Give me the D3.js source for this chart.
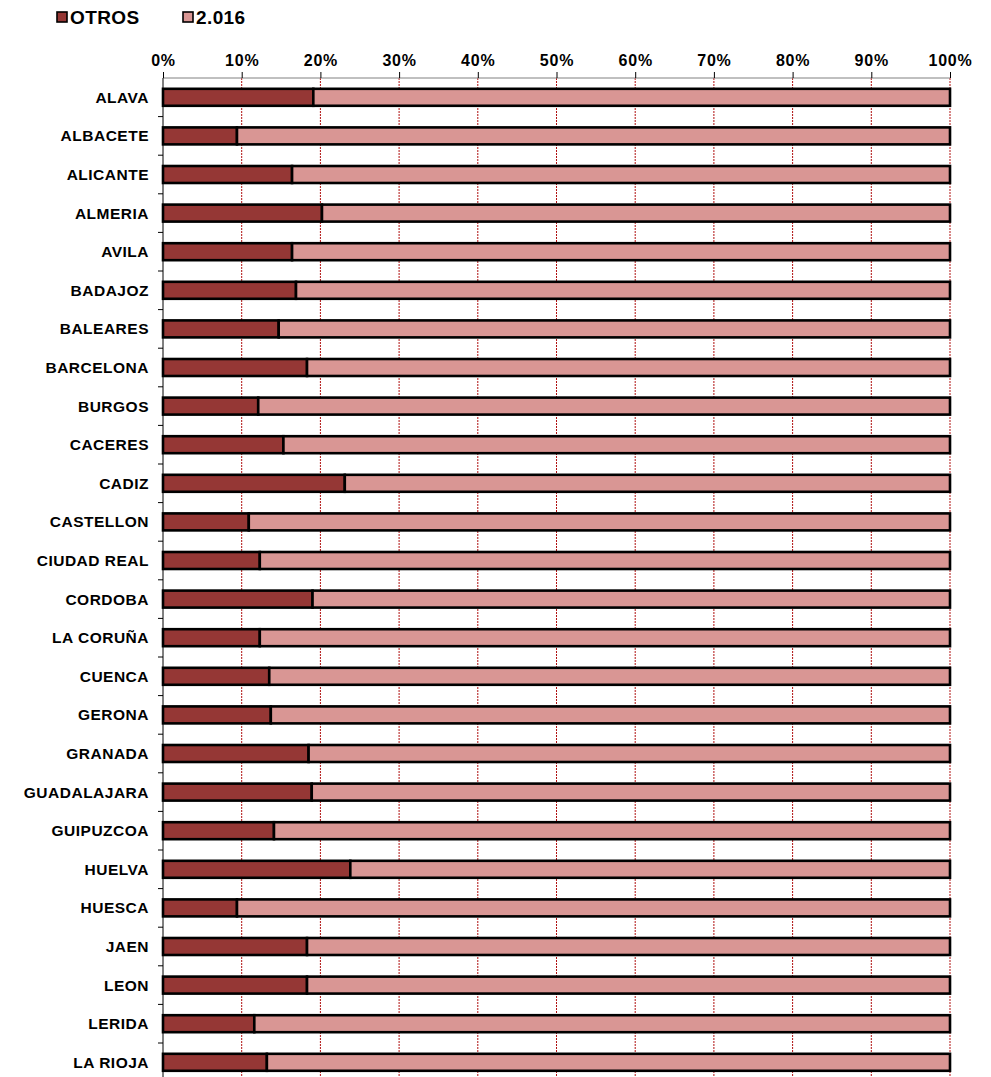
<!DOCTYPE html>
<html>
<head>
<meta charset="utf-8">
<script src="https://cdn.jsdelivr.net/npm/d3@7"></script>
<style>
  body { margin: 0; background: #fff; }
  text { font-family: Arial, "Liberation Sans", sans-serif; font-weight: bold; fill: #000; }
</style>
</head>
<body>
<div id="chart"></div>
<script>
// provinces, top to bottom
const provincias = ["ALAVA", "ALBACETE", "ALICANTE", "ALMERIA", "AVILA", "BADAJOZ", "BALEARES",
  "BARCELONA", "BURGOS", "CACERES", "CADIZ", "CASTELLON", "CIUDAD REAL", "CORDOBA", "LA CORUÑA",
  "CUENCA", "GERONA", "GRANADA", "GUADALAJARA", "GUIPUZCOA", "HUELVA", "HUESCA", "JAEN", "LEON",
  "LERIDA", "LA RIOJA"];

// share (%) of each series
const otros = [19.1, 9.4, 16.4, 20.2, 16.4, 16.9, 14.7, 18.3, 12.1, 15.3, 23.1, 10.9, 12.3, 19.0,
  12.3, 13.5, 13.7, 18.5, 18.9, 14.1, 23.8, 9.4, 18.3, 18.3, 11.6, 13.2];
const y2016 = [80.9, 90.6, 83.6, 79.8, 83.6, 83.1, 85.3, 81.7, 87.9, 84.7, 76.9, 89.1, 87.7, 81.0,
  87.7, 86.5, 86.3, 81.5, 81.1, 85.9, 76.2, 90.6, 81.7, 81.7, 88.4, 86.8];

const series = ["OTROS", "2.016"];
const colors = ["#953735", "#d99694"];
const ticks = [0, 0.1, 0.2, 0.3, 0.4, 0.5, 0.6, 0.7, 0.8, 0.9, 1];

const width = 991, height = 1077,
      margin = ({ top: 78, right: 41, left: 163 });

const data = provincias.map((p, i) => ({ prov: p, "OTROS": otros[i], "2.016": y2016[i] }));
const stacked = d3.stack().keys(series).offset(d3.stackOffsetExpand)(data);

let svg = d3.select("#chart")
  .append("svg")
  .attr("width", width)
  .attr("height", height);

let x = d3.scaleLinear()
  .domain([0, 1])
  .range([margin.left, width - margin.right]);

// band height per category ~38.6px; chart runs past the bottom edge
let y = d3.scaleBand()
  .domain(provincias)
  .range([margin.top, margin.top + provincias.length * 38.6])
  .paddingInner(0.56)
  .paddingOuter(0.28);

// dotted red gridlines
svg.append("g")
  .selectAll("line")
  .data(ticks.slice(1))
  .join("line")
  .attr("x1", d => x(d)).attr("x2", d => x(d))
  .attr("y1", margin.top).attr("y2", height)
  .attr("stroke", "#b01010")
  .attr("stroke-width", 1)
  .attr("stroke-dasharray", "2,1");

// top axis
let xAxis = svg.append("g")
  .attr("transform", `translate(0,${margin.top})`)
  .call(d3.axisTop(x).tickValues(ticks).tickFormat(d3.format(".0%")).tickSize(6).tickPadding(6));
xAxis.select(".domain").attr("stroke", "#808080").attr("d", `M${x(0)},0H${x(1)}`);
xAxis.selectAll(".tick line").attr("stroke", "#000");
xAxis.selectAll(".tick text")
  .attr("font-family", null)
  .style("font-size", "16px")
  .style("letter-spacing", "0.8px");

// left axis with ticks at band boundaries
let step = y.step();
svg.append("line")
  .attr("x1", x(0)).attr("x2", x(0))
  .attr("y1", margin.top).attr("y2", height)
  .attr("stroke", "#000");
svg.append("g")
  .selectAll("line")
  .data(provincias)
  .join("line")
  .attr("x1", x(0) - 5).attr("x2", x(0))
  .attr("y1", d => y(d) - y.paddingOuter() * step + step)
  .attr("y2", d => y(d) - y.paddingOuter() * step + step)
  .attr("stroke", "#000");

// category labels
svg.append("g")
  .selectAll("text")
  .data(provincias)
  .join("text")
  .attr("x", 149)
  .attr("y", d => y(d) + y.bandwidth() / 2)
  .attr("dy", "0.36em")
  .attr("text-anchor", "end")
  .style("font-size", "15.5px")
  .style("letter-spacing", "0.5px")
  .text(d => d);

// stacked bars
svg.append("g")
  .selectAll("g")
  .data(stacked)
  .join("g")
  .attr("fill", (d, i) => colors[i])
  .selectAll("rect")
  .data(d => d)
  .join("rect")
  .attr("x", d => x(d[0]))
  .attr("y", d => y(d.data.prov))
  .attr("width", d => x(d[1]) - x(d[0]))
  .attr("height", y.bandwidth())
  .attr("stroke", "#000")
  .attr("stroke-width", 2.6);

// legend
let legend = svg.append("g")
  .selectAll("g")
  .data(series)
  .join("g")
  .attr("transform", (d, i) => `translate(${57 + i * 126},12)`);
legend.append("rect")
  .attr("width", 10).attr("height", 10)
  .attr("fill", (d, i) => colors[i])
  .attr("stroke", "#000").attr("stroke-width", 1.6);
legend.append("text")
  .attr("x", 13)
  .attr("y", 12)
  .style("font-size", "19px")
  .style("letter-spacing", "0.4px")
  .text(d => d);
</script>
</body>
</html>
